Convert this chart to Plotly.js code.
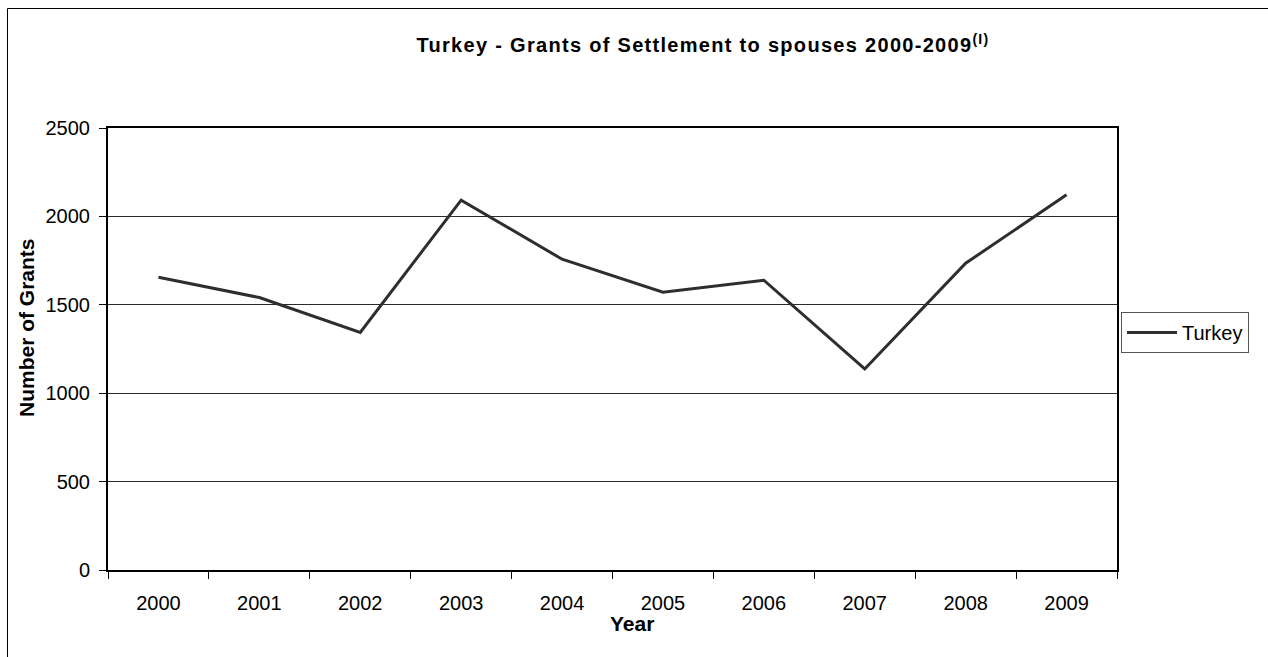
<!DOCTYPE html>
<html>
<head>
<meta charset="utf-8">
<script src="https://cdn.plot.ly/plotly-3.0.1.min.js"></script>
<style>
  html, body { margin: 0; padding: 0; background: #fff; }
  #chart { width: 1268px; height: 657px; }
  .gtitle { letter-spacing: 1.3px; }
</style>
</head>
<body>
<div id="chart"></div>
<script>
// Grants of settlement to spouses, Turkey, by year
const years = ['2000', '2001', '2002', '2003', '2004', '2005', '2006', '2007', '2008', '2009'];
const grants = [1656, 1541, 1344, 2092, 1758, 1571, 1639, 1137, 1735, 2122];
const seriesName = 'Turkey';
const yTicks = [0, 500, 1000, 1500, 2000, 2500];

const FONT = 'Liberation Sans, Arial, sans-serif';

const trace = {
  type: 'scatter',
  mode: 'lines',
  x: years,
  y: grants,
  name: seriesName,
  line: { color: '#2e2e2e', width: 3 },
  hoverinfo: 'x+y'
};

// plot area spans 108..1117 px horizontally, 128..570 px vertically
const M = { l: 108, r: 151, t: 128, b: 87 };
const W = 1268, H = 657;
const pw = W - M.l - M.r, ph = H - M.t - M.b;
const px = v => (v - M.l) / pw;          // page x -> paper x
const py = v => (H - M.b - v) / ph;      // page y -> paper y

const layout = {
  width: W,
  height: H,
  margin: M,
  paper_bgcolor: '#ffffff',
  plot_bgcolor: '#ffffff',
  font: { family: FONT, size: 20, color: '#000' },
  title: {
    text: 'Turkey - Grants of Settlement to spouses 2000-2009<sup>(I)</sup>',
    font: { family: FONT, size: 20, weight: 'bold', color: '#000' },
    xref: 'container', yref: 'container',
    x: 703 / W, xanchor: 'center',
    y: 1 - 45 / H, yanchor: 'middle'
  },
  xaxis: {
    type: 'category',
    range: [-0.5, years.length - 0.5],
    tickson: 'boundaries',
    ticks: 'outside',
    ticklen: 7,
    tickwidth: 1,
    tickcolor: '#000',
    showline: true,
    linecolor: '#000',
    linewidth: 2,
    mirror: true,
    showgrid: false,
    zeroline: false,
    tickfont: { family: FONT, size: 20, color: '#000' },
    ticklabelstandoff: 14
  },
  yaxis: {
    range: [0, 2500],
    tickvals: yTicks,
    ticks: 'outside',
    ticklen: 7,
    tickwidth: 1,
    tickcolor: '#000',
    showline: true,
    linecolor: '#000',
    linewidth: 2,
    mirror: true,
    showgrid: true,
    gridcolor: '#2a2a2a',
    gridwidth: 1,
    zeroline: false,
    tickfont: { family: FONT, size: 20, color: '#000' },
    ticklabelstandoff: 5
  },
  showlegend: true,
  legend: {
    x: px(1121), xanchor: 'left',
    y: py(312), yanchor: 'top',
    bgcolor: '#ffffff',
    bordercolor: '#555',
    borderwidth: 1,
    font: { family: FONT, size: 20, color: '#000' },
    itemwidth: 50,
    tracegroupgap: 0
  },
  annotations: [
    {
      text: '<b>Number of Grants</b>',
      xref: 'paper', yref: 'paper',
      x: px(26), y: py(328),
      xanchor: 'center', yanchor: 'middle',
      textangle: -90,
      showarrow: false,
      font: { family: FONT, size: 21, color: '#000' }
    },
    {
      text: '<b>Year</b>',
      xref: 'paper', yref: 'paper',
      x: px(632), y: py(623),
      xanchor: 'center', yanchor: 'middle',
      showarrow: false,
      font: { family: FONT, size: 21, color: '#000' }
    }
  ],
  shapes: [
    {
      // outer chart frame
      type: 'rect',
      xref: 'paper', yref: 'paper',
      x0: px(7.5), x1: px(1290),
      y0: py(700), y1: py(8.5),
      line: { color: '#000', width: 1 },
      fillcolor: 'rgba(0,0,0,0)',
      layer: 'below'
    }
  ]
};

Plotly.newPlot('chart', [trace], layout, { displayModeBar: false, staticPlot: true });
</script>
</body>
</html>
